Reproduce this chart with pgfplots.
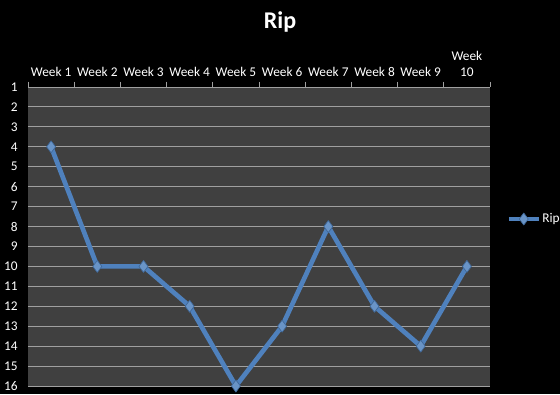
\documentclass[border=0pt]{standalone}
\usepackage{pgfplots}
\pgfplotsset{compat=1.18}
\usepackage{fontspec}
\setmainfont{Carlito}
\definecolor{plotbg}{HTML}{404040}
\definecolor{gridc}{HTML}{A0A0A0}
\definecolor{ser}{HTML}{4F81BD}
\begin{document}
\begin{tikzpicture}
\fill[black] (0,0) rectangle (420pt,295.5pt);
\path[use as bounding box] (0,0) rectangle (420pt,295.5pt);
\begin{axis}[
  at={(21pt,6pt)}, anchor=south west,
  scale only axis, width=346.5pt, height=224.25pt,
  xmin=0.5, xmax=10.5, ymin=1, ymax=16, y dir=reverse,
  axis background/.style={fill=plotbg},
  axis line style={draw=none},
  xtick={1,...,10},
  xticklabels={Week 1,Week 2,Week 3,Week 4,Week 5,Week 6,Week 7,Week 8,Week 9,{Week\\10}},
  xticklabel pos=top, xtick pos=top,
  xticklabel style={align=center, text=white, font=\fontsize{10}{12}\selectfont},
  major x tick style={draw=none},
  minor xtick={0.5,1.5,...,10.5},
  minor x tick style={draw=gridc, line width=0.75pt},
  minor tick length=4pt, tick align=outside,
  ytick={1,...,16},
  major y tick style={draw=none},
  yticklabel style={text=white, font=\fontsize{10}{12}\selectfont},
  /pgf/number format/assume math mode=true,
  ymajorgrids, grid style={draw=gridc, line width=0.75pt},
  clip=false,
  legend style={at={(1.035,0.5585)}, anchor=west, draw=none, fill=none, text=white, font=\fontsize{10}{12}\selectfont, inner sep=0pt, nodes={inner sep=1pt}},
  legend image code/.code={\draw[#1, mark repeat=2, mark phase=2] plot coordinates {(0pt,0pt)(11.25pt,0pt)(22.5pt,0pt)};},
]
\addplot[ser, line width=3.5pt, line join=round, mark=diamond*, mark size=4.5pt,
  mark options={fill=ser!85!white, draw=ser!80!black, line width=0.5pt}]
  coordinates {(1,4)(2,10)(3,10)(4,12)(5,16)(6,13)(7,8)(8,12)(9,14)(10,10)};
\addlegendentry{Rip}
\end{axis}
\node[text=white, font=\bfseries\fontsize{18}{22}\selectfont] at (210pt,279pt) {Rip};
\end{tikzpicture}
\end{document}
